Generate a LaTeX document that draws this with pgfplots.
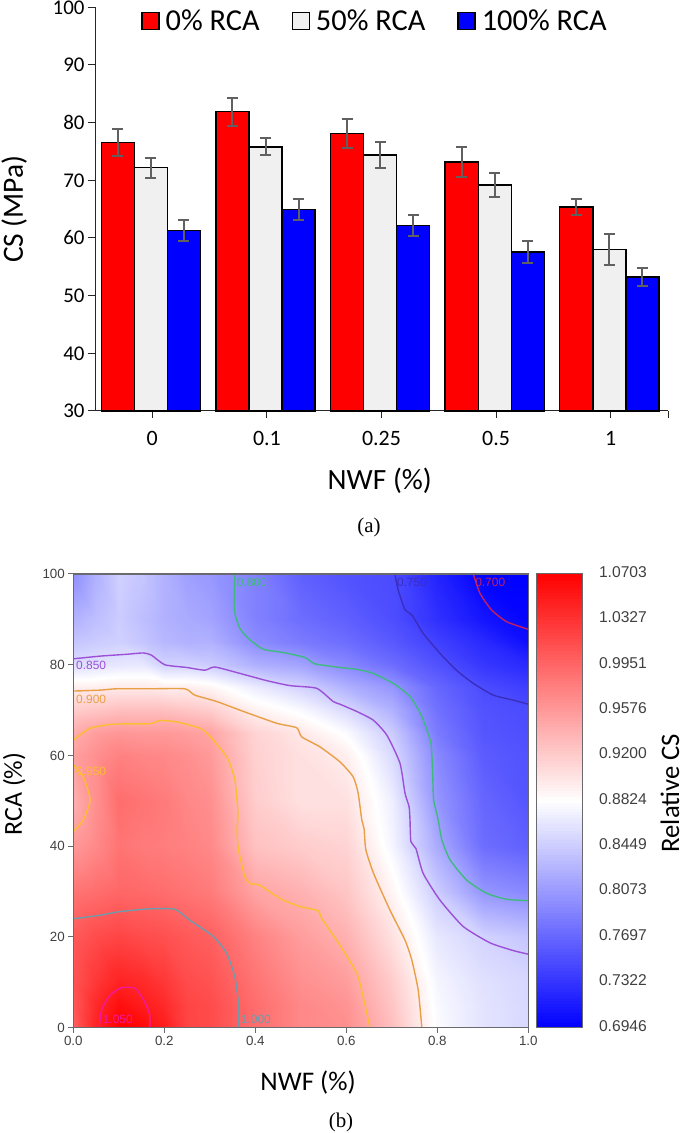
\documentclass[border=0pt]{standalone}
\usepackage{fontspec}
\setmainfont{Carlito}
\newfontfamily\arialf{Liberation Sans}
\newfontfamily\timesf{Liberation Serif}
\usepackage{pgfplots}
\pgfplotsset{compat=1.18}

\definecolor{ctr70}{RGB}{196,30,95}
\definecolor{ctr75}{RGB}{58,46,190}
\definecolor{ctr80}{RGB}{64,185,125}
\definecolor{ctr85}{RGB}{155,80,215}
\definecolor{ctr90}{RGB}{232,160,70}
\definecolor{ctr95}{RGB}{250,190,50}
\definecolor{ctr100}{RGB}{112,155,170}
\definecolor{ctr105}{RGB}{240,25,155}
\definecolor{errgray}{RGB}{96,96,96}
\definecolor{barlight}{RGB}{240,240,240}
\definecolor{boxgray}{RGB}{105,105,110}
\definecolor{ticktxt}{RGB}{64,64,64}

\newcommand{\fs}[1]{\fontsize{#1}{#1}\selectfont}

\pgfplotsset{
  rcabar/.style 2 args={
    ybar, bar width=33bp, bar shift=#1, fill=#2, draw=black, line width=1.4bp,
    legend image code/.code={\draw[##1] (0bp,-8.3bp) rectangle (17bp,8.3bp); \path (21bp,0bp);},
    error bars/.cd, y dir=both, y explicit,
    error bar style={errgray, line width=2bp, xshift=#1},
    error mark options={rotate=90, mark size=5.5bp, errgray, line width=2bp},
  },
  ctr/.style={no marks, line width=1.4bp, smooth, tension=0.35, #1},
}
\tikzset{ctrlabel/.style={anchor=west, inner sep=0pt, font=\arialf\fs{12}, text=#1}}

\begin{document}
\begin{tikzpicture}
\path[use as bounding box] (0bp,0bp) rectangle (685bp,1133bp);

% (a) bars
\begin{axis}[
  at={(95bp,722bp)}, anchor=south west, scale only axis,
  width=573bp, height=403.7bp,
  xmin=-0.5, xmax=4.5, ymin=30, ymax=100,
  axis lines=left, axis line style={-, black!85, line width=1bp},
  tick style={black!85, line width=1bp}, tick align=outside, major tick length=7bp,
  xtick={0,1,2,3,4,4.5}, xticklabels={0,0.1,0.25,0.5,1,},
  ytick={30,40,50,60,70,80,90,100},
  yticklabels={30,40,50,60,70,80,90,100},
  xticklabel style={font=\fs{22}, yshift=-10bp},
  yticklabel style={font=\fs{21}},
  xlabel={NWF (\%)}, ylabel={CS (MPa)},
  xlabel style={font=\fs{29.5}, at={(axis description cs:0.497,-0.173)}, anchor=center},
  ylabel style={font=\fs{29.5}, at={(axis description cs:-0.141,0.5)}, anchor=center},
  legend style={at={(0.0803,0.966)}, anchor=west, draw=none, fill=none, inner sep=0pt,
    font=\fs{30.5}, legend columns=3,
    /tikz/every even column/.append style={column sep=30bp}},
  clip=false,
]
\addplot[rcabar={-34.4bp}{red}] coordinates {
  (0,76.6) +- (0,2.3)
  (1,81.9) +- (0,2.45)
  (2,78.1) +- (0,2.45)
  (3,73.2) +- (0,2.55)
  (4,65.4) +- (0,1.35)
};
\addlegendentry{0\% RCA}
\addplot[rcabar={-1.4bp}{barlight}] coordinates {
  (0,72.2) +- (0,1.75)
  (1,75.8) +- (0,1.45)
  (2,74.4) +- (0,2.25)
  (3,69.2) +- (0,2.15)
  (4,58.0) +- (0,2.7)
};
\addlegendentry{50\% RCA}
\addplot[rcabar={31.6bp}{blue}] coordinates {
  (0,61.3) +- (0,1.85)
  (1,64.9) +- (0,1.85)
  (2,62.2) +- (0,1.85)
  (3,57.6) +- (0,1.9)
  (4,53.2) +- (0,1.6)
};
\addlegendentry{100\% RCA}
\end{axis}

\node[font=\timesf\fs{21}] at (369bp,606bp) {(a)};

% (b) map
\begin{axis}[
  at={(73.3bp,105.3bp)}, anchor=south west, scale only axis,
  width=455bp, height=453.7bp,
  xmin=0, xmax=1, ymin=0, ymax=100,
  axis on top,
  axis line style={boxgray, line width=1.3bp},
  tick style={boxgray, line width=1bp}, tick align=outside, major tick length=5bp,
  xtick pos=bottom, ytick pos=left,
  xtick={0,0.2,0.4,0.6,0.8,1}, xticklabels={0.0,0.2,0.4,0.6,0.8,1.0},
  ytick={0,20,40,60,80,100}, yticklabels={0,20,40,60,80,100},
  xticklabel style={font=\arialf\fs{13.4}, text=ticktxt},
  yticklabel style={font=\arialf\fs{13.4}, text=ticktxt},
  xlabel={NWF (\%)}, ylabel={RCA (\%)},
  xlabel style={font=\fs{27}, at={(axis description cs:0.516,-0.12)}, anchor=center},
  ylabel style={font=\fs{26}, at={(axis description cs:-0.13,0.515)}, anchor=center},
  colormap={rwb}{rgb255=(0,0,255) rgb255=(255,255,255) rgb255=(255,0,0)},
  point meta min=0.6946, point meta max=1.0703,
  colorbar sampled,
  colorbar style={
    samples=150,
    at={(1.018,0)}, anchor=south west, width=46bp, height=453.7bp,
    axis line style={boxgray, line width=1bp},
    major tick length=0pt,
    ytick={0.6946,0.7322,0.7697,0.8073,0.8449,0.8824,0.92,0.9576,0.9951,1.0327,1.0703},
    yticklabels={0.6946,0.7322,0.7697,0.8073,0.8449,0.8824,0.9200,0.9576,0.9951,1.0327,1.0703},
    yticklabel style={font=\arialf\fs{15.7}, text=ticktxt, yshift=2bp, xshift=13bp},
    ylabel={Relative CS},
    ylabel style={font=\fs{26.8}, inner sep=0pt, at={(axis description cs:2.9,0.517)}, anchor=center},
  },
]
\addplot[surf, shader=interp, mesh/cols=14, mesh/ordering=x varies, point meta=explicit]
  table[row sep=\\, x=x, y=y, meta=z] {
x y z\\
0 0 1.0\\ .05 0 1.045\\ .1 0 1.0705\\ .15 0 1.065\\ .2 0 1.05\\ .25 0 1.021\\ .3 0 1.015\\ .4 0 .99\\ .5 0 .97\\ .6 0 .965\\ .7 0 .93\\ .8 0 .88\\ .9 0 .862\\ 1 0 .854\\
0 5 1.005\\ .05 5 1.04\\ .1 5 1.06\\ .15 5 1.05\\ .2 5 1.04\\ .25 5 1.02\\ .3 5 1.015\\ .4 5 .99\\ .5 5 .97\\ .6 5 .962\\ .7 5 .925\\ .8 5 .878\\ .9 5 .862\\ 1 5 .854\\
0 10 1.008\\ .05 10 1.03\\ .1 10 1.045\\ .15 10 1.04\\ .2 10 1.03\\ .25 10 1.015\\ .3 10 1.01\\ .4 10 .985\\ .5 10 .965\\ .6 10 .955\\ .7 10 .92\\ .8 10 .875\\ .9 10 .86\\ 1 10 .853\\
0 20 1.004\\ .05 20 1.015\\ .1 20 1.02\\ .15 20 1.015\\ .2 20 1.012\\ .25 20 1.005\\ .3 20 1.0\\ .4 20 .975\\ .5 20 .955\\ .6 20 .94\\ .7 20 .905\\ .8 20 .865\\ .9 20 .85\\ 1 20 .84\\
0 30 .985\\ .05 30 .99\\ .1 30 .995\\ .15 30 .993\\ .2 30 .99\\ .25 30 .985\\ .3 30 .98\\ .4 30 .95\\ .5 30 .94\\ .6 30 .925\\ .7 30 .89\\ .8 30 .845\\ .9 30 .805\\ 1 30 .795\\
0 40 .958\\ .05 40 .97\\ .1 40 .985\\ .15 40 .98\\ .2 40 .978\\ .25 40 .975\\ .3 40 .97\\ .4 40 .928\\ .5 40 .92\\ .6 40 .915\\ .7 40 .875\\ .8 40 .82\\ .9 40 .775\\ 1 40 .765\\
0 50 .942\\ .05 50 .965\\ .1 50 .99\\ .15 50 .985\\ .2 50 .98\\ .25 50 .971\\ .3 50 .965\\ .4 50 .92\\ .5 50 .905\\ .6 50 .905\\ .7 50 .87\\ .8 50 .805\\ .9 50 .77\\ 1 50 .757\\
0 60 .953\\ .05 60 .965\\ .1 60 .975\\ .15 60 .972\\ .2 60 .97\\ .25 60 .965\\ .3 60 .957\\ .4 60 .917\\ .5 60 .905\\ .6 60 .895\\ .7 60 .855\\ .8 60 .795\\ .9 60 .762\\ 1 60 .755\\
0 65 .943\\ .05 65 .955\\ .1 65 .96\\ .15 65 .958\\ .2 65 .958\\ .25 65 .955\\ .3 65 .95\\ .4 65 .915\\ .5 65 .9\\ .6 65 .88\\ .7 65 .845\\ .8 65 .785\\ .9 65 .758\\ 1 65 .752\\
0 70 .92\\ .05 70 .925\\ .1 70 .93\\ .15 70 .93\\ .2 70 .93\\ .25 70 .925\\ .3 70 .92\\ .4 70 .893\\ .5 70 .878\\ .6 70 .855\\ .7 70 .825\\ .8 70 .778\\ .9 70 .755\\ 1 70 .75\\
0 75 .895\\ .05 75 .895\\ .1 75 .898\\ .15 75 .898\\ .2 75 .895\\ .25 75 .895\\ .3 75 .89\\ .4 75 .868\\ .5 75 .85\\ .6 75 .825\\ .7 75 .805\\ .8 75 .77\\ .9 75 .75\\ 1 75 .74\\
0 80 .858\\ .05 80 .862\\ .1 80 .865\\ .15 80 .866\\ .2 80 .85\\ .25 80 .85\\ .3 80 .845\\ .4 80 .825\\ .5 80 .815\\ .6 80 .795\\ .7 80 .775\\ .8 80 .755\\ .9 80 .735\\ 1 80 .725\\
0 85 .84\\ .05 85 .845\\ .1 85 .848\\ .15 85 .84\\ .2 85 .83\\ .25 85 .825\\ .3 85 .825\\ .4 85 .798\\ .5 85 .785\\ .6 85 .775\\ .7 85 .76\\ .8 85 .742\\ .9 85 .725\\ 1 85 .705\\
0 90 .825\\ .05 90 .835\\ .1 90 .845\\ .15 90 .835\\ .2 90 .825\\ .25 90 .82\\ .3 90 .815\\ .4 90 .79\\ .5 90 .775\\ .6 90 .765\\ .7 90 .752\\ .8 90 .73\\ .9 90 .71\\ 1 90 .698\\
0 100 .80\\ .05 100 .825\\ .1 100 .848\\ .15 100 .84\\ .2 100 .825\\ .25 100 .812\\ .3 100 .806\\ .4 100 .79\\ .5 100 .765\\ .6 100 .755\\ .7 100 .75\\ .8 100 .72\\ .9 100 .695\\ 1 100 .6946\\
};

% contour lines
\addplot[ctr=ctr70] coordinates {(.879,100) (.894,95.7) (.919,92.1) (.952,89.5) (1,87.8)};
\addplot[ctr=ctr75] coordinates {(.707,100) (.714,96.5) (.729,92.1) (.744,91) (.769,86.9) (.806,82.5) (.842,78.8) (.879,75.9) (.923,73.3) (.967,72.2) (1,71.3)};
\addplot[ctr=ctr80] coordinates {(.355,100) (.354,92.1) (.366,88) (.388,85.5) (.418,83.4) (.462,82.7) (.509,81.6) (.531,80.2) (.586,79.4) (.623,79) (.659,78.1) (.703,75.9) (.74,73) (.766,68.6) (.786,62.7) (.79,55.3) (.792,50.2) (.802,45.8) (.81,41.4) (.828,37) (.865,32.5) (.909,29.6) (.953,28.3) (1,28)};
\addplot[ctr=ctr85] coordinates {(0,81.3) (.059,81.9) (.117,82.3) (.154,82.6) (.172,82.1) (.201,80) (.249,79.4) (.289,78.8) (.311,79.5) (.366,78.1) (.425,76.5) (.476,75.4) (.535,74.8) (.571,71.9) (.586,71.3) (.623,69.7) (.659,67.8) (.689,64.5) (.718,58.3) (.729,51.7) (.738,48.7) (.74,45.8) (.742,41) (.753,39.5) (.769,34) (.806,28.1) (.857,22.3) (.916,18.7) (.967,17) (1,16.2)};
\addplot[ctr=ctr90] coordinates {(0,74.2) (.059,74.4) (.095,74.7) (.168,74.7) (.245,74.7) (.267,73.3) (.315,71.9) (.374,69.7) (.447,67.1) (.491,66.1) (.502,64.1) (.542,61.9) (.586,58.6) (.615,55.3) (.626,51.7) (.634,45.8) (.639,43.9) (.643,39.2) (.66,34) (.696,25.9) (.729,19.3) (.744,14.9) (.758,8.3) (.766,0)};
\addplot[ctr=ctr95] coordinates {(0,63.4) (.037,66) (.088,66.9) (.168,67) (.19,67.7) (.227,67.4) (.286,65.6) (.337,59.7) (.355,54.6) (.362,47.2) (.36,43.6) (.363,39.2) (.377,33.3) (.388,31.8) (.41,31.4) (.454,28.5) (.498,26.7) (.538,25.8) (.546,24.1) (.586,18.2) (.623,12) (.637,6.8) (.652,0)};
\addplot[ctr=ctr95] coordinates {(0,57.9) (.022,55.3) (.037,50.2) (.022,45.8) (0,43.2)};
\addplot[ctr=ctr100] coordinates {(0,24) (.059,24.8) (.103,25.6) (.168,26.2) (.223,26.1) (.256,23.7) (.308,20.1) (.337,16.4) (.355,11.2) (.363,5.4) (.363,0)};
\addplot[ctr=ctr105] coordinates {(.057,0) (.062,3.9) (.081,7.2) (.106,8.8) (.136,8.7) (.157,5.7) (.168,2.8) (.168,0)};

\node[ctrlabel=ctr85] at (axis cs:.006,79.9) {0.850};
\node[ctrlabel=ctr90] at (axis cs:.006,72.4) {0.900};
\node[ctrlabel=ctr95] at (axis cs:.006,56.6) {0.950};
\node[ctrlabel=ctr80] at (axis cs:.359,98.2) {0.800};
\node[ctrlabel=ctr75] at (axis cs:.711,98.2) {0.750};
\node[ctrlabel=ctr70] at (axis cs:.883,98.2) {0.700};
\node[ctrlabel=ctr105] at (axis cs:.0645,1.9) {1.050};
\node[ctrlabel=ctr100] at (axis cs:.368,1.9) {1.000};
\end{axis}

\node[font=\timesf\fs{21}] at (341bp,11bp) {(b)};
\end{tikzpicture}
\end{document}
